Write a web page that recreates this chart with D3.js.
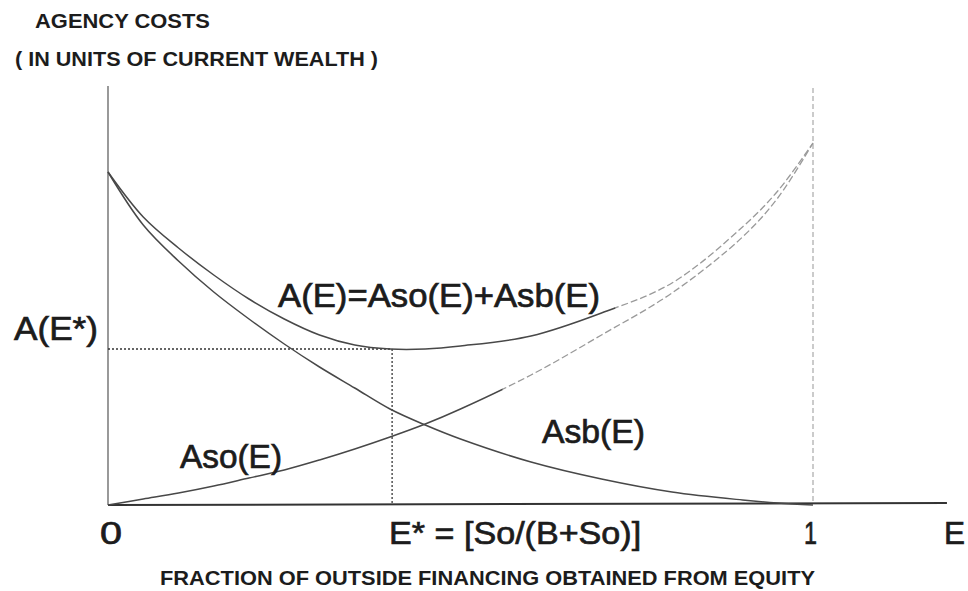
<!DOCTYPE html>
<html>
<head>
<meta charset="utf-8">
<script src="https://cdn.jsdelivr.net/npm/d3@7"></script>
<style>
  body { margin: 0; background: #fff; }
  svg text { font-family: "Liberation Sans", Arial, Helvetica, sans-serif; fill: #1c1c1c; }
</style>
</head>
<body>
<div id="viz"></div>
<script>
// ====================
// DATA
// ====================
const equityShare = [0, 0.05, 0.1, 0.15, 0.2, 0.25, 0.3, 0.35, 0.4, 0.45, 0.5, 0.6, 0.7, 0.8, 0.9, 0.95, 1.0];
const asbCost   = [333, 280, 244, 213, 186, 161, 138, 117, 96, 80, 66, 43, 26, 13, 5, 2, 0];
const asoCost   = [0, 6, 12, 19, 27, 35, 45, 56, 68, 81, 96, 130, 170, 212, 268, 307, 362];
const totalCost = [333, 288, 257, 230, 206, 186, 170, 160, 156, 156, 159, 169, 192, 222, 278, 314, 362];

const eStar = 0.403;
const aStar = 156;

const tickLabels = ['0', 'E* = [So/(B+So)]', '1', 'E'];

// ====================
// SETUP
// ====================
const width = 968;
const height = 591;

const x = d3.scaleLinear().domain([0, 1]).range([108, 813]);
const y = d3.scaleLinear().domain([0, 400]).range([505, 105]);

const svg = d3.select('#viz')
  .append('svg')
  .attr('width', width)
  .attr('height', height);

// ====================
// AXES
// ====================
svg.append('line')
  .attr('x1', x(0)).attr('x2', x(0))
  .attr('y1', 86).attr('y2', y(0))
  .attr('stroke', '#808080').attr('stroke-width', 1.6);

svg.append('line')
  .attr('x1', x(0)).attr('x2', x(1.19))
  .attr('y1', y(0)).attr('y2', y(0) - 2)
  .attr('stroke', '#333').attr('stroke-width', 2);

// vertical reference at E = 1
svg.append('line')
  .attr('x1', x(1)).attr('x2', x(1))
  .attr('y1', 88).attr('y2', y(0) - 2)
  .attr('stroke', '#b0b0b0').attr('stroke-width', 1.3)
  .attr('stroke-dasharray', '5,3');

// dotted guides at the optimum
svg.append('line')
  .attr('x1', x(0)).attr('x2', x(eStar))
  .attr('y1', y(aStar)).attr('y2', y(aStar))
  .attr('stroke', '#333').attr('stroke-width', 1.4)
  .attr('stroke-dasharray', '2,2');
svg.append('line')
  .attr('x1', x(eStar)).attr('x2', x(eStar))
  .attr('y1', y(aStar)).attr('y2', y(0))
  .attr('stroke', '#444').attr('stroke-width', 1.4)
  .attr('stroke-dasharray', '2,2');

// ====================
// CURVES
// ====================
const lineGen = (vals) => d3.line()
  .x((d, i) => x(equityShare[i]))
  .y((d) => y(d))
  .curve(d3.curveCatmullRom.alpha(0.5))(vals);

// solid dark up to splitAt, then a light dashed stroke (as in the scan)
const defs = svg.append('defs');
const drawCurve = (vals, id, splitAt) => {
  defs.append('clipPath').attr('id', id + 'L')
    .append('rect').attr('x', 0).attr('y', 0).attr('width', x(splitAt)).attr('height', height);
  defs.append('clipPath').attr('id', id + 'R')
    .append('rect').attr('x', x(splitAt)).attr('y', 0).attr('width', width).attr('height', height);

  svg.append('path')
    .attr('d', lineGen(vals))
    .attr('clip-path', `url(#${id}L)`)
    .attr('fill', 'none')
    .attr('stroke', '#484848')
    .attr('stroke-width', 1.5);
  svg.append('path')
    .attr('d', lineGen(vals))
    .attr('clip-path', `url(#${id}R)`)
    .attr('fill', 'none')
    .attr('stroke', '#9a9a9a')
    .attr('stroke-width', 1.3)
    .attr('stroke-dasharray', '7,3');
};

drawCurve(asbCost, 'asb', 1.5);
drawCurve(asoCost, 'aso', 0.56);
drawCurve(totalCost, 'tot', 0.72);

// ====================
// TEXT
// ====================
const addText = (str, px, py, size, opts = {}) => {
  const t = svg.append('text')
    .attr('x', px).attr('y', py)
    .attr('font-size', size)
    .attr('font-weight', opts.weight || 'normal')
    .attr('text-anchor', opts.anchor || 'start')
    .text(str);
  if (opts.len) t.attr('textLength', opts.len).attr('lengthAdjust', 'spacingAndGlyphs');
  if (opts.heavy) t.attr('stroke', '#1c1c1c').attr('stroke-width', 0.7);
  return t;
};

addText('AGENCY COSTS', 35, 28, 20, { weight: 'bold', len: 175 });
addText('( IN UNITS OF CURRENT WEALTH )', 15, 66, 20, { weight: 'bold', len: 363 });

addText('A(E*)', 14, 340, 33, { len: 84, heavy: true });
addText('A(E)=Aso(E)+Asb(E)', 278, 307, 33, { len: 322, heavy: true });
addText('Aso(E)', 180, 468, 33, { len: 102, heavy: true });
addText('Asb(E)', 542, 443, 33, { len: 103, heavy: true });

// tick labels under the axis
const tickPos = [x(0) - 8, x(eStar) - 3, x(1) - 9, 944];
const tickLen = [22, 252, 13, 21];
tickLabels.forEach((lab, i) => {
  addText(lab, tickPos[i], 544, 32, { len: tickLen[i], heavy: true });
});

addText('FRACTION OF OUTSIDE FINANCING OBTAINED FROM EQUITY', 160, 585, 21, { weight: 'bold', len: 655 });
</script>
</body>
</html>
